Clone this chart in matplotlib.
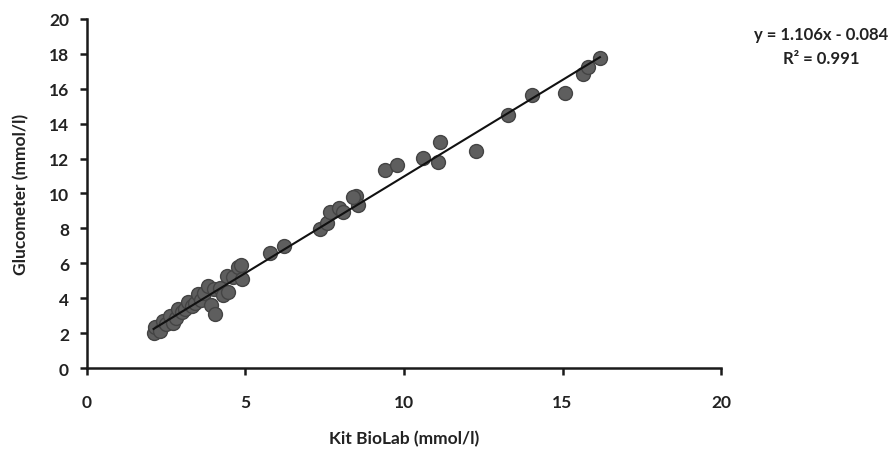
import numpy as np
import matplotlib
matplotlib.use("Agg")
import matplotlib.pyplot as plt

plt.rcParams['font.family'] = ['Lato', 'DejaVu Sans']

kit_biolab = [2.10, 2.14, 2.30, 2.41, 2.50, 2.62, 2.72, 2.80, 2.88, 3.00, 3.10, 3.20, 3.30, 3.40,
              3.51, 3.60, 3.70, 3.83, 3.90, 4.04, 4.00, 4.20, 4.30, 4.41, 4.46, 4.60, 4.77, 4.88,
              4.85, 5.77, 6.21, 7.35, 7.56, 7.67, 7.96, 8.09, 8.50, 8.56, 8.40, 9.40, 9.79,
              10.60, 11.08, 11.14, 12.26, 13.27, 14.03, 15.08, 15.66, 15.81, 16.18]
glucometer = [2.00, 2.33, 2.14, 2.71, 2.55, 3.00, 2.60, 2.85, 3.38, 3.20, 3.40, 3.76, 3.55, 3.70,
              4.24, 3.90, 4.30, 4.72, 3.60, 3.09, 4.50, 4.60, 4.20, 5.29, 4.34, 5.20, 5.77, 5.10,
              5.90, 6.59, 6.97, 7.97, 8.31, 8.92, 9.15, 8.92, 9.87, 9.34, 9.80, 11.36, 11.65,
              12.03, 11.78, 12.93, 12.45, 14.50, 15.64, 15.76, 16.85, 17.23, 17.76]

slope = 1.106
intercept = -0.084
r_squared = 0.991

x_ticks = [0, 5, 10, 15, 20]
y_ticks = [0, 2, 4, 6, 8, 10, 12, 14, 16, 18, 20]

fig = plt.figure(figsize=(8.93, 4.52), dpi=100)
ax = fig.add_axes([0.0974, 0.1836, 0.710, 0.7722])

ax.scatter(kit_biolab, glucometer, s=100, facecolor='#5e5e5e', edgecolor='#444444',
           linewidth=1.0, zorder=2)

xl = np.array([min(kit_biolab), max(kit_biolab)])
ax.plot(xl, slope * xl + intercept, color='#111111', linewidth=1.5, zorder=3)

ax.set_xlim(0, 20)
ax.set_ylim(0, 20)
ax.set_xticks(x_ticks)
ax.set_yticks(y_ticks)
for s in ['top', 'right']:
    ax.spines[s].set_visible(False)
for s in ['left', 'bottom']:
    ax.spines[s].set_linewidth(1.8)
    ax.spines[s].set_color('#1a1a1a')
ax.tick_params(axis='both', direction='out', length=5, width=1.8, color='#1a1a1a',
               labelsize=12.5, pad=8)
for lbl in ax.get_xticklabels() + ax.get_yticklabels():
    lbl.set_fontweight('bold')
    lbl.set_color('#222222')
ax.tick_params(axis='x', pad=14)

ax.set_xlabel('Kit BioLab (mmol/l)', fontsize=12.5, fontweight='bold', color='#222222', labelpad=14)
ax.set_ylabel('Glucometer (mmol/l)', fontsize=12.5, fontweight='bold', color='#222222', labelpad=14)

fig.text(0.920, 0.922, 'y = 1.106x - 0.084', ha='center', va='center', fontsize=12,
         fontweight='bold', color='#222222')
fig.text(0.920, 0.870, 'R² = 0.991', ha='center', va='center', fontsize=12,
         fontweight='bold', color='#222222')

fig.savefig('out.png', dpi=100)
